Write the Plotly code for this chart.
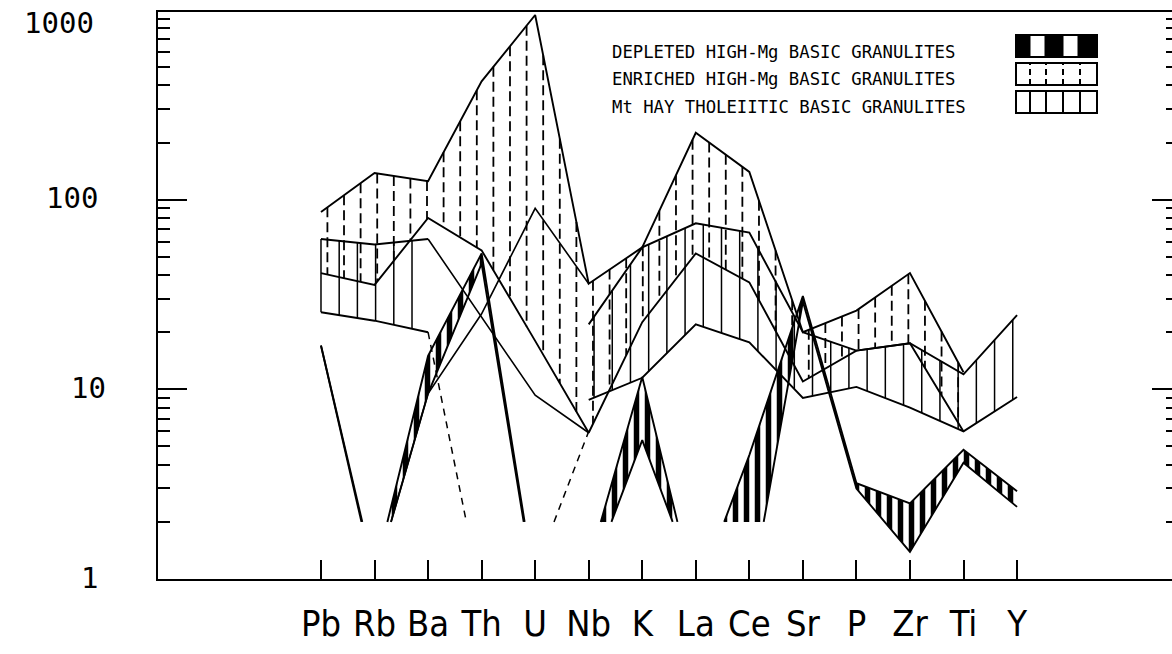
import numpy as np
import plotly.graph_objects as go

# ---------------- data ----------------
ELEMENTS = ["Pb", "Rb", "Ba", "Th", "U", "Nb", "K", "La", "Ce", "Sr", "P", "Zr", "Ti", "Y"]

# Enriched high-Mg basic granulites envelope (dashed vertical hatching)
ENR_UPPER = [86, 138, 125, 420, 940, 36, 56, 225, 140, 20, 26, 41, 12.3, None]
ENR_LOWER = [41, 35.5, 80, 54, 18, 5.9, 22.6, 52, 36.6, 11, 16, 17.5, 6.0, None]

# Mt Hay tholeiitic basic granulites envelope (solid vertical hatching)
MTH_UPPER = [62, 58, 62, None, None, 22, 56, 75, 67, 20, 16, 17.5, 12, 24.6]
MTH_LOWER = [25.5, 23, 20, None, None, 8.8, 11.5, 22, 17.7, 9, 10.3, 8, 6, 9.1]
MTH_TREND = [None, None, 62, 24, 9.3, 5.9, None, None, None, None, None, None, None, None]
MTH_LOW_DASHED = [None, None, 20, 0.8, 1.1, 6, None, None, None, None, None, None, None, None]

# single enriched sample crossing the field
ENR_SAMPLE = [None, 1.0, 9.5, 25, 90, 36, None, None, None, None, None, None, None, None]

# Depleted high-Mg basic granulites envelope (black / white stripes)
DEP_UPPER = [17, 1.06, 15, 52, 0.9, 1.2, 11.6, 0.8, 4.5, 31, 3.2, 2.5, 4.8, 2.9]
DEP_LOWER = [17, 1.0, 9.5, 46, 0.85, 0.96, 5.4, 0.94, 0.75, 29, 3.0, 1.39, 4.1, 2.4]

# elements whose values below the plotting floor are cut at the floor
BDL_ELEMENTS = ["Rb", "Th", "U", "Nb", "La", "Ce"]
FLOOR = 2.0

Y_TICK_TEXT = ["1000", "100", "10", "1"]
Y_TICK_VALS = [1000, 100, 10, 1]
LEGEND_TEXT = ["DEPLETED HIGH-Mg BASIC GRANULITES",
               "ENRICHED HIGH-Mg BASIC GRANULITES",
               "Mt HAY THOLEIITIC BASIC GRANULITES"]

# ---------------- geometry helpers ----------------
W_FIG, H_FIG = 1172, 654
L, T, W, H = 158, 12, 1014, 567
X_RANGE = [-3.044, 15.894]
Y_TOP = 2.989
LF = np.log10(FLOOR)


def px2x(px):
    return (px - L) / W


def py2y(py):
    return (T + H - py) / H


def is_bdl(i, v):
    return v is not None and v < FLOOR and ELEMENTS[i] in BDL_ELEMENTS


def cross(p, q):
    t = (LF - p[1]) / (q[1] - p[1])
    return (p[0] + t * (q[0] - p[0]), LF)


def clip_poly(pts):
    out = []
    n = len(pts)
    for k in range(n):
        cur, prev = pts[k], pts[k - 1]
        cin, pin = cur[1] >= LF, prev[1] >= LF
        if cin:
            if not pin:
                out.append(cross(prev, cur))
            out.append(cur)
        elif pin:
            out.append(cross(prev, cur))
    return out


def polyline(vals):
    xs, ys = [], []
    last = None
    for i in range(len(vals) - 1):
        a, b = vals[i], vals[i + 1]
        if a is None or b is None:
            continue
        pa, pb = (i, np.log10(a)), (i + 1, np.log10(b))
        ba, bb = is_bdl(i, a), is_bdl(i + 1, b)
        if ba and bb:
            continue
        if ba:
            pa = cross(pa, pb)
        if bb:
            pb = cross(pa, pb)
        if last is None or abs(last[0] - pa[0]) > 1e-9 or abs(last[1] - pa[1]) > 1e-9:
            if xs:
                xs.append(None)
                ys.append(None)
            xs.append(pa[0])
            ys.append(10 ** pa[1])
        xs.append(pb[0])
        ys.append(10 ** pb[1])
        last = pb
    return xs, ys


def band_polys(up, lo):
    xs, ys = [], []
    for i in range(len(up) - 1):
        vals = [up[i], up[i + 1], lo[i + 1], lo[i]]
        if any(v is None for v in vals):
            continue
        idx = [i, i + 1, i + 1, i]
        pts = [(idx[k], np.log10(vals[k])) for k in range(4)]
        if any(is_bdl(idx[k], vals[k]) for k in range(4)):
            pts = clip_poly(pts)
        if len(pts) < 3:
            continue
        for p in pts:
            xs.append(p[0])
            ys.append(10 ** p[1])
        xs.append(None)
        ys.append(None)
    return xs, ys


def hatch(up, lo, step, start):
    xs, ys = [], []
    x = start
    n = len(up)
    while x < n - 1:
        i = int(np.floor(x))
        t = x - i
        if None not in (up[i], up[i + 1], lo[i], lo[i + 1]):
            lu = (1 - t) * np.log10(up[i]) + t * np.log10(up[i + 1])
            ll = (1 - t) * np.log10(lo[i]) + t * np.log10(lo[i + 1])
            if lu - ll > 0.01:
                xs += [x, x, None]
                ys += [10 ** lu, 10 ** ll, None]
        x += step
    return xs, ys


fig = go.Figure()

# depleted striped band
dx, dy = band_polys(DEP_UPPER, DEP_LOWER)
fig.add_trace(go.Scatter(
    x=dx, y=dy, mode="lines", fill="toself", line=dict(width=0, color="black"),
    fillcolor="white",
    fillpattern=dict(shape="|", size=11, solidity=0.5, fgcolor="black", bgcolor="white",
                     fillmode="replace"),
    hoverinfo="skip", showlegend=False))

# enriched dashed hatching
hx, hy = hatch(ENR_UPPER, ENR_LOWER, 0.31, 0.12)
fig.add_trace(go.Scatter(x=hx, y=hy, mode="lines",
                         line=dict(color="black", width=1.8, dash="10px,5px"),
                         hoverinfo="skip", showlegend=False))

# Mt Hay solid hatching
mx, my = hatch(MTH_UPPER, MTH_LOWER, 0.34, 0.0)
fig.add_trace(go.Scatter(x=mx, y=my, mode="lines",
                         line=dict(color="black", width=1.5),
                         hoverinfo="skip", showlegend=False))

# outlines
for series, dash, wid in [(ENR_UPPER, "solid", 1.9), (ENR_LOWER, "solid", 1.9),
                          (MTH_UPPER, "solid", 1.9), (MTH_LOWER, "solid", 1.9),
                          (MTH_TREND, "solid", 1.6), (ENR_SAMPLE, "solid", 1.6),
                          (MTH_LOW_DASHED, "7px,6px", 1.5),
                          (DEP_UPPER, "solid", 1.9), (DEP_LOWER, "solid", 1.9)]:
    lx, ly = polyline(series)
    fig.add_trace(go.Scatter(x=lx, y=ly, mode="lines",
                             line=dict(color="black", width=wid, dash=dash),
                             hoverinfo="skip", showlegend=False))

# dummy traces for overlay axes
MINOR = [k * 10 ** d for d in range(3) for k in range(2, 10)]
for ax in ["y2", "y3", "y4"]:
    fig.add_trace(go.Scatter(x=[0], y=[10], yaxis=ax, mode="markers",
                             marker=dict(opacity=0), hoverinfo="skip", showlegend=False))

axis_common = dict(type="log", range=[0, Y_TOP], showgrid=False, zeroline=False,
                   showticklabels=False, tickcolor="black", tickwidth=2, ticks="inside")

fig.update_layout(
    width=W_FIG, height=H_FIG,
    margin=dict(l=L, r=W_FIG - L - W, t=T, b=H_FIG - T - H, pad=0),
    paper_bgcolor="white", plot_bgcolor="white",
    showlegend=False,
    xaxis=dict(range=X_RANGE, tickvals=list(range(len(ELEMENTS))), ticktext=ELEMENTS,
               ticks="inside", ticklen=19, tickwidth=2, tickcolor="black",
               showline=True, linewidth=2, linecolor="black", mirror=True,
               showgrid=False, zeroline=False, ticklabelstandoff=12,
               tickfont=dict(family="Liberation Sans Narrow, DejaVu Sans Condensed, Arial Narrow, sans-serif",
                             size=36, color="black")),
    yaxis=dict(**axis_common, tickvals=[10, 100], ticklen=29,
               showline=True, linewidth=2, linecolor="black"),
    yaxis2=dict(**axis_common, overlaying="y", side="left", tickvals=MINOR, ticklen=12,
                showline=False),
    yaxis3=dict(**axis_common, overlaying="y", side="right", tickvals=[10, 100], ticklen=20,
                showline=False),
    yaxis4=dict(**axis_common, overlaying="y", side="right", tickvals=MINOR, ticklen=6,
                showline=False),
)

# y-axis labels
Y_LABEL_PX = [(59, 23), (72, 198), (88, 388), (89, 578)]
for txt, (cx, cy) in zip(Y_TICK_TEXT, Y_LABEL_PX):
    fig.add_annotation(x=px2x(cx), y=py2y(cy), xref="paper", yref="paper", text=txt,
                       showarrow=False, xanchor="center", yanchor="middle",
                       font=dict(family="DejaVu Sans Mono, monospace", size=29, color="black"))

# legend text
LEG_Y = [52, 79, 107]
for txt, cy in zip(LEGEND_TEXT, LEG_Y):
    fig.add_annotation(x=px2x(610), y=py2y(cy), xref="paper", yref="paper", text=txt,
                       showarrow=False, xanchor="left", yanchor="middle",
                       font=dict(family="DejaVu Sans Mono, monospace",
                                 size=17.3, color="black"))

# legend boxes
BOX_X0, BOX_X1 = 1016, 1097
BOX_Y = [(35, 57), (63, 85), (91, 113)]
shapes = []
for (y0, y1) in BOX_Y:
    shapes.append(dict(type="rect", xref="paper", yref="paper",
                       x0=px2x(BOX_X0), x1=px2x(BOX_X1), y0=py2y(y1), y1=py2y(y0),
                       line=dict(color="black", width=2), fillcolor="white"))
# depleted: black blocks
for bx0, bx1 in [(1016, 1030), (1045, 1063), (1078, 1097)]:
    shapes.append(dict(type="rect", xref="paper", yref="paper",
                       x0=px2x(bx0), x1=px2x(bx1), y0=py2y(BOX_Y[0][1]), y1=py2y(BOX_Y[0][0]),
                       line=dict(color="black", width=1), fillcolor="black"))
# enriched: dashed dividers
for bx in [1030, 1046, 1063, 1080]:
    shapes.append(dict(type="line", xref="paper", yref="paper",
                       x0=px2x(bx), x1=px2x(bx), y0=py2y(BOX_Y[1][1]), y1=py2y(BOX_Y[1][0]),
                       line=dict(color="black", width=2, dash="6px,4px")))
# Mt Hay: solid dividers
for bx in [1030, 1046, 1063, 1080]:
    shapes.append(dict(type="line", xref="paper", yref="paper",
                       x0=px2x(bx), x1=px2x(bx), y0=py2y(BOX_Y[2][1]), y1=py2y(BOX_Y[2][0]),
                       line=dict(color="black", width=2)))
fig.update_layout(shapes=shapes)

fig.write_html("out.html")
